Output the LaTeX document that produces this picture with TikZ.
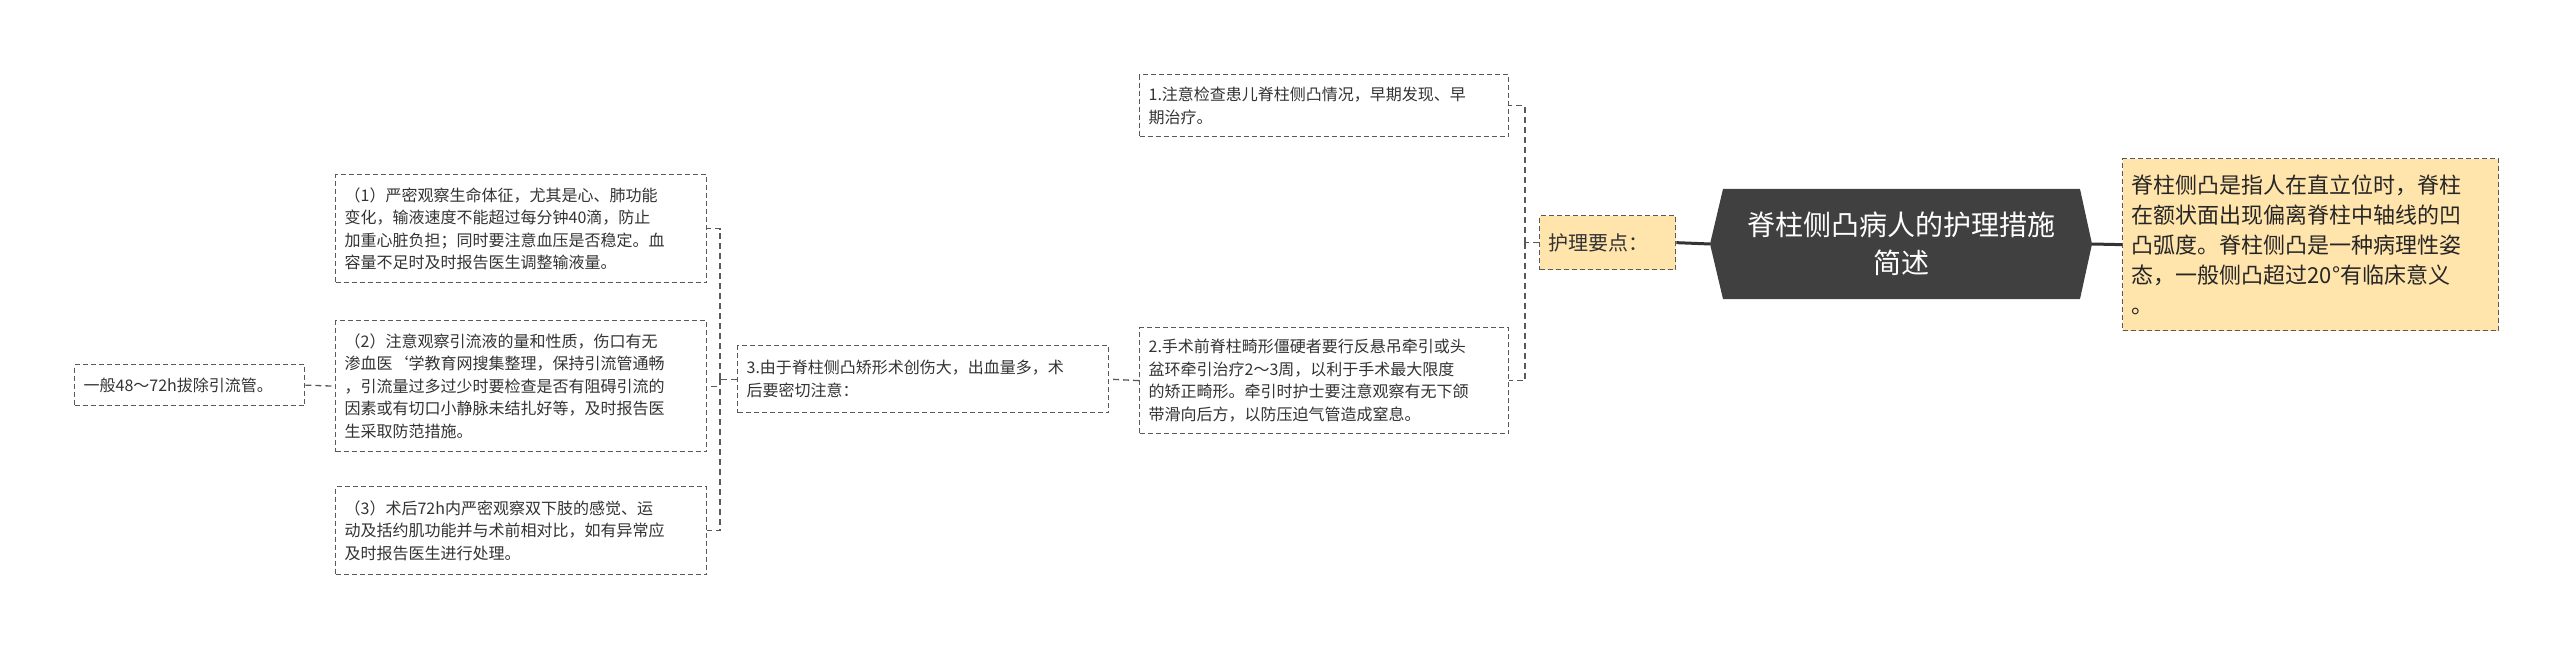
\documentclass[tikz,border=0pt]{standalone}
\usepackage{fontspec}
\setmainfont{Noto Sans CJK SC}
\begin{document}
\begin{tikzpicture}[x=1pt,y=-1pt,
  box/.style={draw=black!65, dash pattern=on 5pt off 3pt, line width=1.3pt, fill=white, align=left, anchor=north west, inner xsep=9pt, inner ysep=0pt, font=\fontsize{16}{22.5}\selectfont, text=black!80},
  conn/.style={draw=black!65, dash pattern=on 6pt off 4pt, line width=1.3pt},
  solidc/.style={draw=black!80, line width=3pt}]
\useasboundingbox (0,0) rectangle (2560,647);
\node[box, text width=212pt, minimum height=41pt] (a) at (74,364) {一般48～72h拔除引流管。};
\node[box, text width=353pt, minimum height=108pt] (c1) at (335,174) {（1）严密观察生命体征，尤其是心、肺功能\\变化，输液速度不能超过每分钟40滴，防止\\加重心脏负担；同时要注意血压是否稳定。血\\容量不足时及时报告医生调整输液量。};
\node[box, text width=353pt, minimum height=131pt] (c2) at (335,320) {（2）注意观察引流液的量和性质，伤口有无\\渗血医`学教育网搜集整理，保持引流管通畅\\，引流量过多过少时要检查是否有阻碍引流的\\因素或有切口小静脉未结扎好等，及时报告医\\生采取防范措施。};
\node[box, text width=353pt, minimum height=88pt] (c3) at (335,486) {（3）术后72h内严密观察双下肢的感觉、运\\动及括约肌功能并与术前相对比，如有异常应\\及时报告医生进行处理。};
\node[box, text width=353pt, minimum height=67pt] (p3) at (737,345) {3.由于脊柱侧凸矫形术创伤大，出血量多，术\\后要密切注意：};
\node[box, text width=351pt, minimum height=62pt] (n1) at (1139,74) {1.注意检查患儿脊柱侧凸情况，早期发现、早\\期治疗。};
\node[box, text width=351pt, minimum height=106pt] (n2) at (1139,327) {2.手术前脊柱畸形僵硬者要行反悬吊牵引或头\\盆环牵引治疗2～3周，以利于手术最大限度\\的矫正畸形。牵引时护士要注意观察有无下颌\\带滑向后方，以防压迫气管造成窒息。};
\node[box, fill={rgb,255:red,255;green,228;blue,172}, text width=118pt, minimum height=54pt, font=\fontsize{20}{26}\selectfont] (k) at (1539,215) {护理要点：};
\node[box, fill={rgb,255:red,255;green,228;blue,172}, text width=358pt, minimum height=172pt, font=\fontsize{22}{30}\selectfont, text=black!85] (r) at (2122,158) {脊柱侧凸是指人在直立位时，脊柱\\在额状面出现偏离脊柱中轴线的凹\\凸弧度。脊柱侧凸是一种病理性姿\\态，一般侧凸超过20°有临床意义\\。};
\fill[black!75] (1710,244) -- (1723,189) -- (2080,189) -- (2092,244) -- (2080,299) -- (1723,299) -- cycle;
\node[text=white, align=center, font=\fontsize{28}{38}\selectfont] (m) at (1901,244) {脊柱侧凸病人的护理措施\\简述};
\coordinate (ml) at (1710,244);
\coordinate (mr) at (2092,244);
% connectors
\draw[conn] (a.east) -- (c2.west);
\draw[conn] (p3.west) -- ++(-17,0) coordinate (j3);
\draw[conn] (j3) |- (c1.east);
\draw[conn] (j3) |- (c2.east);
\draw[conn] (j3) |- (c3.east);
\draw[conn] (n2.west) -- (p3.east);
\draw[conn] (k.west) -- ++(-14,0) coordinate (jk);
\draw[conn] (jk) |- (n1.east);
\draw[conn] (jk) |- (n2.east);
\draw[solidc] (ml) -- (k.east);
\draw[solidc] (mr) -- (r.west);
\end{tikzpicture}
\end{document}
